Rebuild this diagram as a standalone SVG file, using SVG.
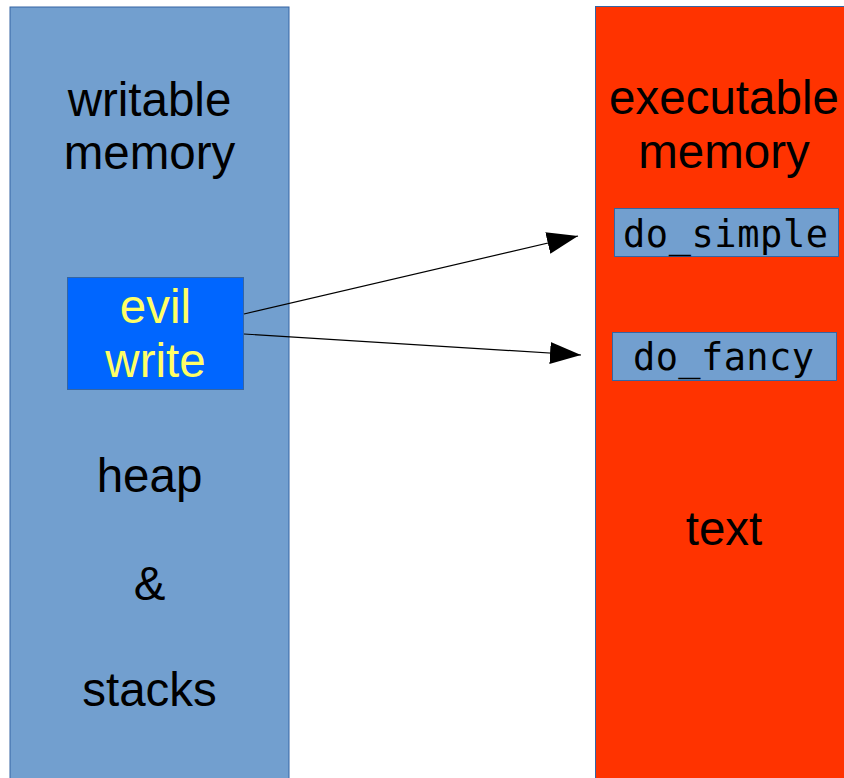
<svg xmlns="http://www.w3.org/2000/svg" width="844" height="778" viewBox="0 0 844 778">
<style>
.lbl{font-family:"Liberation Sans",Arial,sans-serif;font-size:47.5px;text-anchor:middle;fill:#000}
.mono{font-family:"DejaVu Sans Mono","Liberation Mono",monospace;font-size:37px;fill:#000}
.fn{fill:#729fcf;stroke:#3465a4;stroke-width:1}
.conn{stroke:#000;stroke-width:1.2;fill:none;marker-end:url(#ah)}
</style>
<defs>
<marker id="ah" markerUnits="userSpaceOnUse" markerWidth="32" markerHeight="24" refX="31" refY="11" orient="auto">
<path d="M0,0 L31,11 L0,22 z" fill="#000"/>
</marker>
</defs>
<rect width="844" height="778" fill="#fff"/>
<g id="writable">
<rect x="10" y="7" width="279" height="780" fill="#729fcf" stroke="#3465a4" stroke-width="1"/>
<text class="lbl" x="149.5" y="116">writable</text>
<text class="lbl" x="149.5" y="169">memory</text>
<text class="lbl" x="149.5" y="492">heap</text>
<text class="lbl" x="149.5" y="600">&amp;</text>
<text class="lbl" x="149.5" y="706">stacks</text>
</g>
<g id="evil">
<rect x="67.5" y="277.5" width="176" height="112" fill="#0066ff" stroke="#3465a4" stroke-width="1"/>
<text class="lbl" x="155.5" y="323" style="fill:#ffff66">evil</text>
<text class="lbl" x="155.5" y="377" style="fill:#ffff66">write</text>
</g>
<g id="executable">
<rect x="595.5" y="6.5" width="260" height="780" fill="#ff3300" stroke="#3465a4" stroke-width="1"/>
<text class="lbl" x="724" y="114">executable</text>
<text class="lbl" x="724" y="168">memory</text>
<text class="lbl" x="724" y="545">text</text>
</g>
<g id="do_simple">
<rect class="fn" x="614.5" y="208.5" width="224" height="48"/>
<text class="mono" x="623" y="247" textLength="205">do_simple</text>
</g>
<g id="do_fancy">
<rect class="fn" x="612.5" y="332.5" width="224" height="48"/>
<text class="mono" x="633" y="370" textLength="181">do_fancy</text>
</g>
<g id="connectors">
<line class="conn" x1="244" y1="314" x2="578" y2="236"/>
<line class="conn" x1="244" y1="334" x2="581" y2="355"/>
</g>
</svg>
